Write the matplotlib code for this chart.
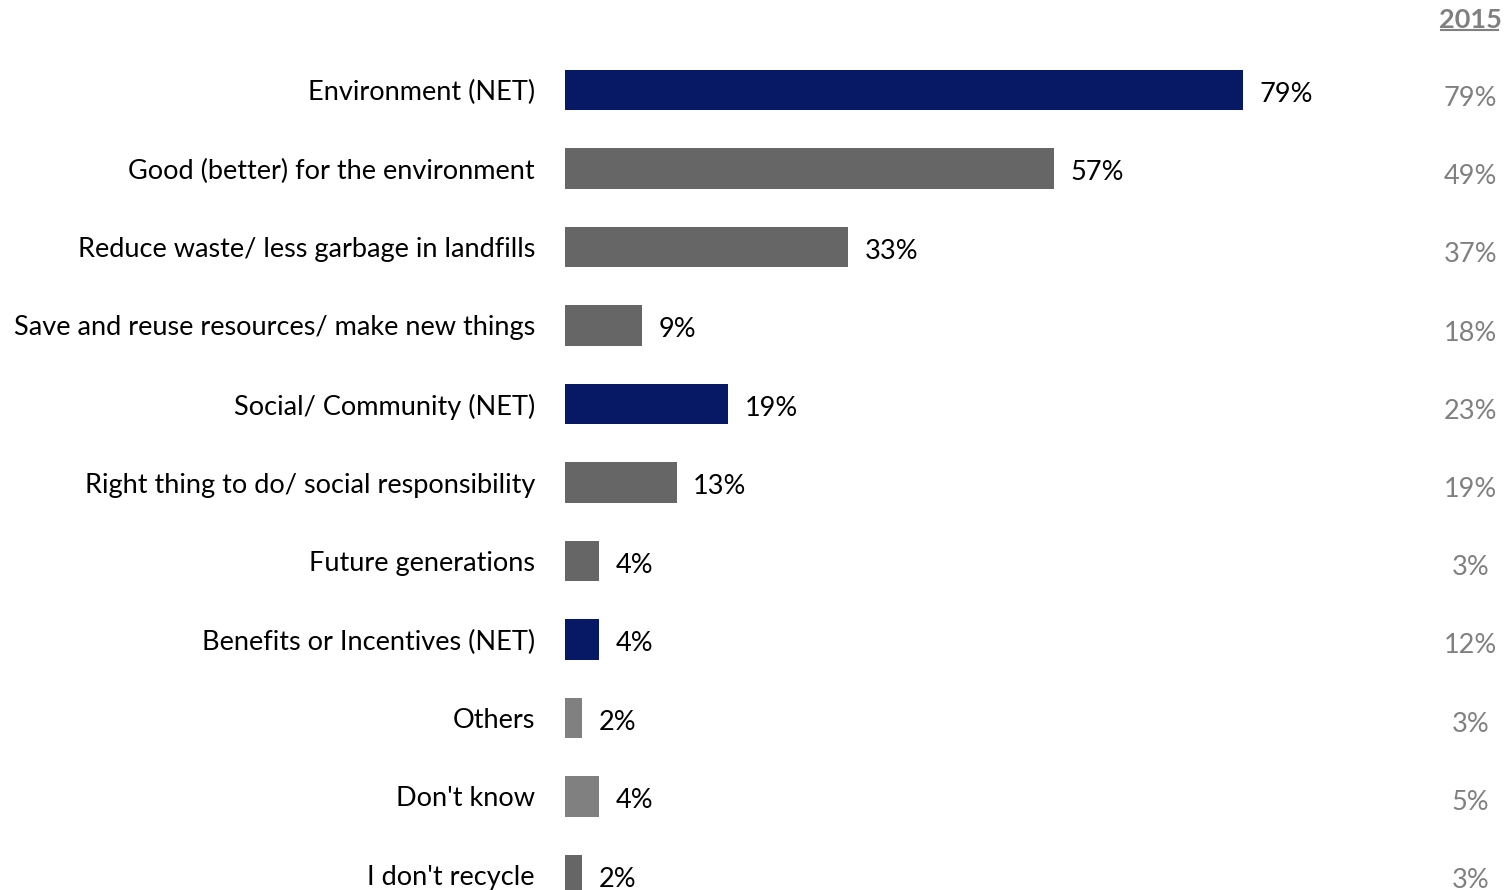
import matplotlib
matplotlib.use("Agg")
import matplotlib.pyplot as plt
from matplotlib.lines import Line2D

plt.rcParams['font.family'] = ['Lato', 'DejaVu Sans']

categories = [
    "Environment (NET)",
    "Good (better) for the environment",
    "Reduce waste/ less garbage in landfills",
    "Save and reuse resources/ make new things",
    "Social/ Community (NET)",
    "Right thing to do/ social responsibility",
    "Future generations",
    "Benefits or Incentives (NET)",
    "Others",
    "Don't know",
    "I don't recycle",
]
values_current = [79, 57, 33, 9, 19, 13, 4, 4, 2, 4, 2]
values_2015 = [79, 49, 37, 18, 23, 19, 3, 12, 3, 5, 3]
bar_colors = ["#071865", "#666666", "#666666", "#666666", "#071865", "#666666",
              "#666666", "#071865", "#808080", "#808080", "#666666"]
year_label = "2015"

W, H = 1510, 890
FS = 19.5
fig = plt.figure(figsize=(W / 100, H / 100), dpi=100)

# axes in pixel terms: left edge 565, 8.58 px per percentage point
ax_left, ax_w = 565, 858
row0, row_step = 90, 78.5
top_px = row0 - row_step / 2
ax = fig.add_axes([ax_left / W, 0, ax_w / W, (H - top_px) / H])
ymax = (H - row0) / row_step
ax.set_xlim(0, 100)
ax.set_ylim(ymax, -0.5)

y = list(range(len(categories)))
ax.barh(y, values_current, height=0.51, color=bar_colors)

for yi, v in zip(y, values_current):
    ax.text(v + 1.9, yi + 0.02, f"{v}%", va="center_baseline", ha="left",
            fontsize=FS, color="#000000")

for yi, lab in zip(y, categories):
    ax.text(-3.5, yi, lab, va="center_baseline", ha="right", fontsize=FS,
            color="#000000")

# 2015 comparison column sits on a slightly tighter grid than the bars
for yi, v in zip(y, values_2015):
    y_col = (6 + 78.2 * yi) / row_step
    ax.text(105.5, y_col, f"{v}%", va="center_baseline", ha="center",
            fontsize=FS, color="#808080", clip_on=False)

ax.axis("off")

# column header with underline
fig.text(1470 / W, 1 - 18 / H, year_label, ha="center", va="center_baseline",
         fontsize=FS, fontweight="bold", color="#808080")
fig.add_artist(Line2D([1441 / W, 1498 / W], [1 - 30 / H, 1 - 30 / H],
                      color="#808080", linewidth=1.5))

fig.savefig("out.png", dpi=100)
